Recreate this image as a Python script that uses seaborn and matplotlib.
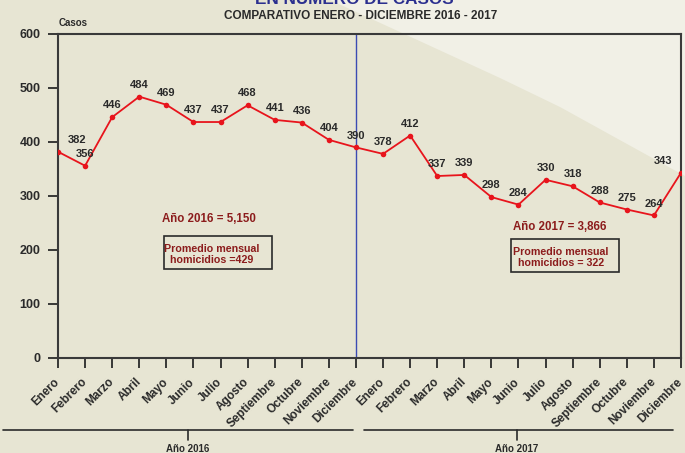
import matplotlib
matplotlib.use("Agg")
import matplotlib.pyplot as plt
from matplotlib.patches import Polygon, Rectangle
from matplotlib.lines import Line2D
import seaborn as sns
import pandas as pd

# Data
months = ["Enero", "Febrero", "Marzo", "Abril", "Mayo", "Junio", "Julio",
          "Agosto", "Septiembre", "Octubre", "Noviembre", "Diciembre"]
cases_2016 = [382, 356, 446, 484, 469, 437, 437, 468, 441, 436, 404, 390]
cases_2017 = [378, 412, 337, 339, 298, 284, 330, 318, 288, 275, 264, 343]
total_2016 = "5,150"
total_2017 = "3,866"
avg_2016 = 429
avg_2017 = 322

df = pd.DataFrame({
    "pos": range(24),
    "mes": months * 2,
    "casos": cases_2016 + cases_2017,
})

sns.set_style("ticks")
plt.rcParams["font.family"] = ["Liberation Sans", "DejaVu Sans"]
plt.rcParams["font.weight"] = "bold"

BG = "#e7e5d3"
LIGHT = "#f1f0e6"
DARK = "#2a2a2a"
RED = "#e8141c"
MAROON = "#8c1c1c"

W, H = 685, 453
fig = plt.figure(figsize=(W / 100, H / 100), dpi=100)
fig.patch.set_facecolor(BG)

# lighter shading top right (figure pixels -> fraction), behind everything
pts = [(330, 0), (400, 32), (500, 78), (560, 107), (685, 176), (685, 0)]
fig.patches.append(Polygon([(x / W, 1 - y / H) for x, y in pts], closed=True,
                           transform=fig.transFigure, facecolor=LIGHT,
                           edgecolor="none", zorder=-5))

ax = fig.add_axes([58 / W, 1 - 358 / H, 623 / W, 324 / H])
ax.set_zorder(1)
ax.set_facecolor("none")

sns.lineplot(data=df, x="pos", y="casos", ax=ax, color=RED, lw=1.3,
             marker="o", markersize=4, markeredgewidth=0, zorder=3)

# separator between years
ax.axvline(11, color="#3b4bb3", lw=1, zorder=2)

ax.set_xlim(0, 23)
ax.set_ylim(0, 600)
ax.set_yticks(range(0, 601, 100))
ax.set_xticks(df["pos"])
ax.set_xticklabels(df["mes"], rotation=45, ha="right", va="center",
                   rotation_mode="anchor", fontsize=8.5, color=DARK)
ax.set_xlabel("")
ax.set_ylabel("")
ax.tick_params(axis="x", length=7, width=1.3, color=DARK, pad=9)
ax.tick_params(axis="y", length=7, width=1.3, color=DARK, pad=5.5,
               labelsize=9, labelcolor=DARK)
for s in ax.spines.values():
    s.set_color("#3a3a3a")
    s.set_linewidth(1.5)

# value labels
for i, v in enumerate(df["casos"]):
    dx = 0
    if i == 0:
        dx = 13.5
    elif i == 23:
        dx = -13
    ax.annotate(str(v), (i, v), xytext=(dx, 8.5), textcoords="offset points",
                ha="center", va="center", fontsize=8, fontweight="bold",
                color=DARK, zorder=4)

# yearly summaries
ax.text(0.2416, 0.429, f"Año 2016 = {total_2016}", transform=ax.transAxes,
        ha="center", va="center", fontsize=8.3, fontweight="bold", color=MAROON)
ax.add_patch(Rectangle((0.170, 0.2747), 0.1735, 0.1018, transform=ax.transAxes,
                       fill=False, edgecolor=DARK, lw=1.2))
ax.text(0.247, 0.3194, f"Promedio mensual\nhomicidios ={avg_2016}",
        transform=ax.transAxes, ha="center", va="center", multialignment="center",
        fontsize=7.7, fontweight="bold", color=MAROON, linespacing=1.15)

ax.text(0.8058, 0.4043, f"Año 2017 = {total_2017}", transform=ax.transAxes,
        ha="center", va="center", fontsize=8.3, fontweight="bold", color=MAROON)
ax.add_patch(Rectangle((0.7271, 0.2654), 0.1733, 0.1019, transform=ax.transAxes,
                       fill=False, edgecolor=DARK, lw=1.2))
ax.text(0.8074, 0.3102, f"Promedio mensual\nhomicidios = {avg_2017}",
        transform=ax.transAxes, ha="center", va="center", multialignment="center",
        fontsize=7.7, fontweight="bold", color=MAROON, linespacing=1.15)

# titles (the upper one is cropped at the top edge, as in the source image)
fig.text(354 / W, 1 - 4.5 / H, "EN NÚMERO DE CASOS", ha="center", va="baseline",
         fontsize=12.3, fontweight="bold", color="#2b2f8f")
fig.text(361 / W, 1 - 16 / H, "COMPARATIVO ENERO - DICIEMBRE 2016 - 2017",
         ha="center", va="center", fontsize=8.5, fontweight="bold", color=DARK)
fig.text(59 / W, 1 - 22.5 / H, "Casos", ha="left", va="center",
         fontsize=7, fontweight="bold", color=DARK)


# year groups under the month labels
def year_group(x0, x1, xc, label):
    y = 1 - 430 / H
    fig.add_artist(Line2D([x0 / W, x1 / W], [y, y], color=DARK, lw=1.2))
    fig.add_artist(Line2D([xc / W, xc / W], [y, 1 - 440 / H], color=DARK, lw=1.2))
    fig.text(xc / W, 1 - 449 / H, label, ha="center", va="center",
             fontsize=7, fontweight="bold", color=DARK)


year_group(3, 353, 188, "Año 2016")
year_group(364, 673, 517, "Año 2017")

fig.savefig("out.png", dpi=100, facecolor=BG)
